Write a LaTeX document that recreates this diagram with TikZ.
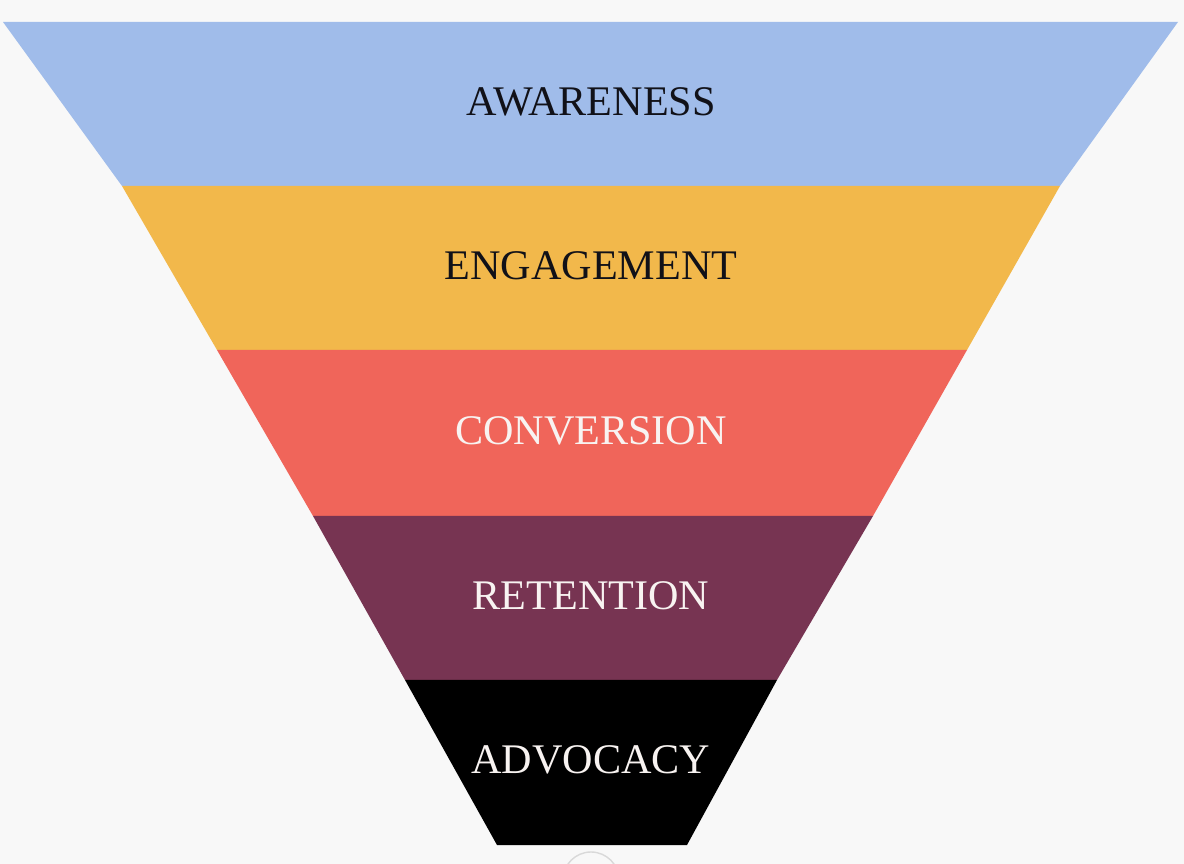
\documentclass[tikz,border=0pt]{standalone}
\usepackage{fontspec}
\setmainfont{Liberation Serif}
\usepackage{xcolor}
\usepackage{tikz}
\usetikzlibrary{positioning,calc}

\definecolor{pagebg}{HTML}{F8F8F8}
\definecolor{awareblue}{HTML}{A0BCEA}
\definecolor{engageorange}{HTML}{F2B84B}
\definecolor{convertred}{HTML}{F0655A}
\definecolor{retainpurple}{HTML}{773452}
\definecolor{advocateblack}{HTML}{000000}
\definecolor{darktext}{HTML}{111118}
\definecolor{lighttext}{HTML}{F8F3F1}

\begin{document}
\begin{tikzpicture}[
  x=0.02cm, y=-0.02cm,
  band/.style={draw=none},
  stage/.style={font=\fontsize{24}{29}\selectfont, inner sep=0pt, anchor=center},
  knob/.style={draw=gray!30, line width=0.8pt}
]
\fill[pagebg] (0,0) rectangle (1184,864);
\useasboundingbox (0,0) rectangle (1184,864);

% funnel bands, top to bottom
\fill[band, awareblue] (3,22) -- (1178,22) -- (1060,186) -- (122,186) -- cycle;
\fill[band, engageorange] (122,186) -- (1060,186) -- (967,350) -- (217,350) -- cycle;
\fill[band, convertred] (217,350) -- (967,350) -- (873,516) -- (313,516) -- cycle;
\fill[band, retainpurple] (313,516) -- (873,516) -- (777,680) -- (405,680) -- cycle;
\fill[band, advocateblack] (405,680) -- (777,680) -- (687,845) -- (497,845) -- cycle;

\node[stage, text=darktext] (awareness) at (591,101.5) {AWARENESS};
\node[stage, text=darktext] (engagement) at (591,266) {ENGAGEMENT};
\node[stage, text=lighttext] (conversion) at (591,430.5) {CONVERSION};
\node[stage, text=lighttext] (retention) at (591,595.5) {RETENTION};
\node[stage, text=lighttext] (advocacy) at (591,760) {ADVOCACY};

% faint round button below the funnel
\begin{scope}
  \clip (0,0) rectangle (1184,864);
  \draw[knob] (591,880) circle (28);
\end{scope}
\end{tikzpicture}
\end{document}
